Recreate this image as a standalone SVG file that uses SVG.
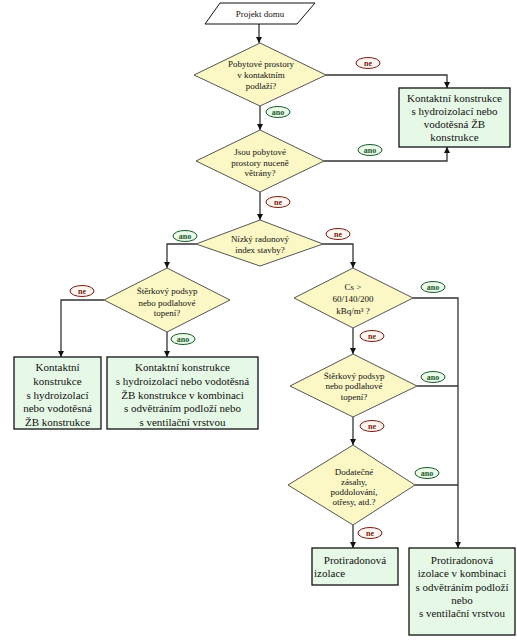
<svg xmlns="http://www.w3.org/2000/svg" width="517" height="642" viewBox="0 0 517 642">
<defs>
<style>
.bg{fill:#ffffff}
.dia{fill:#fbf8c6;stroke:#555555;stroke-width:1}
.box{fill:#e6f8e6;stroke:#111111;stroke-width:1.3}
.par{fill:#ffffff;stroke:#111111;stroke-width:1}
.ln{fill:none;stroke:#333333;stroke-width:1.3}
.dt{font-family:"Liberation Serif","Times New Roman",serif;font-size:9px;fill:#111111;text-anchor:middle}
.bt{font-family:"Liberation Serif","Times New Roman",serif;font-size:11px;fill:#111111;text-anchor:middle}
.ne ellipse{fill:#fff6f2;stroke:#7a1a10;stroke-width:1}
.ne text{font-family:"Liberation Serif","Times New Roman",serif;font-size:8px;font-weight:bold;fill:#7a1a10;text-anchor:middle}
.ano ellipse{fill:#eafbea;stroke:#1a5a2a;stroke-width:1}
.ano text{font-family:"Liberation Serif","Times New Roman",serif;font-size:8px;font-weight:bold;fill:#1a5a2a;text-anchor:middle}
</style>
<marker id="ah" viewBox="0 0 10 10" refX="10" refY="5" markerWidth="6" markerHeight="6" orient="auto" markerUnits="userSpaceOnUse">
<path d="M0,0 L10,5 L0,10 z" fill="#111111"/>
</marker>
</defs>
<rect class="bg" x="0" y="0" width="517" height="642"/>

<g id="connectors">
<path class="ln" d="M259,24 V43" marker-end="url(#ah)"/>
<path class="ln" d="M326,75 H447 V88" marker-end="url(#ah)"/>
<path class="ln" d="M260,106 V130" marker-end="url(#ah)"/>
<path class="ln" d="M324,161 H447 V147" marker-end="url(#ah)"/>
<path class="ln" d="M260,192 V220" marker-end="url(#ah)"/>
<path class="ln" d="M323,244 H353 V268" marker-end="url(#ah)"/>
<path class="ln" d="M196,244 H167 V268" marker-end="url(#ah)"/>
<path class="ln" d="M104,300 H61 V357" marker-end="url(#ah)"/>
<path class="ln" d="M167,332 V357" marker-end="url(#ah)"/>
<path class="ln" d="M413,298 H458 V548" marker-end="url(#ah)"/>
<path class="ln" d="M417,386 H458"/>
<path class="ln" d="M415,485 H458"/>
<path class="ln" d="M353,328 V354" marker-end="url(#ah)"/>
<path class="ln" d="M353,417 V445" marker-end="url(#ah)"/>
<path class="ln" d="M353,525 V548" marker-end="url(#ah)"/>
</g>

<g id="labels">
<g class="ne"><ellipse cx="368" cy="63" rx="12" ry="5.5"/><text x="368" y="66">ne</text></g>
<g class="ano"><ellipse cx="278" cy="112" rx="12" ry="5.5"/><text x="278" y="115">ano</text></g>
<g class="ano"><ellipse cx="370" cy="150" rx="12" ry="5.5"/><text x="370" y="153">ano</text></g>
<g class="ne"><ellipse cx="278" cy="202" rx="12" ry="5.5"/><text x="278" y="205">ne</text></g>
<g class="ne"><ellipse cx="338" cy="234" rx="12" ry="5.5"/><text x="338" y="237">ne</text></g>
<g class="ano"><ellipse cx="185" cy="236" rx="12" ry="5.5"/><text x="185" y="239">ano</text></g>
<g class="ne"><ellipse cx="82" cy="291" rx="12" ry="5.5"/><text x="82" y="294">ne</text></g>
<g class="ano"><ellipse cx="183" cy="339" rx="12" ry="5.5"/><text x="183" y="342">ano</text></g>
<g class="ano"><ellipse cx="433" cy="287" rx="12" ry="5.5"/><text x="433" y="290">ano</text></g>
<g class="ne"><ellipse cx="372" cy="336" rx="12" ry="5.5"/><text x="372" y="339">ne</text></g>
<g class="ano"><ellipse cx="433" cy="377" rx="12" ry="5.5"/><text x="433" y="380">ano</text></g>
<g class="ne"><ellipse cx="372" cy="426" rx="12" ry="5.5"/><text x="372" y="429">ne</text></g>
<g class="ano"><ellipse cx="427" cy="473" rx="12" ry="5.5"/><text x="427" y="476">ano</text></g>
<g class="ne"><ellipse cx="370" cy="533" rx="12" ry="5.5"/><text x="370" y="536">ne</text></g>
</g>

<g id="start">
<polygon class="par" points="220,3 315,3 297,24 205,24"/>
<text class="dt" x="260" y="17">Projekt domu</text>
</g>

<g id="d1">
<polygon class="dia" points="260,43 326,75 260,106 194,75"/>
<text class="dt" x="261" y="67">Pobytové prostory</text>
<text class="dt" x="261" y="78">v kontaktním</text>
<text class="dt" x="261" y="89">podlaží?</text>
</g>

<g id="d2">
<polygon class="dia" points="260,130 324,161 260,192 196,161"/>
<text class="dt" x="260" y="155">Jsou pobytové</text>
<text class="dt" x="260" y="166">prostory nuceně</text>
<text class="dt" x="260" y="176">větrány?</text>
</g>

<g id="d3">
<polygon class="dia" points="260,220 323,244 260,266 196,244"/>
<text class="dt" x="260" y="242">Nízký radonový</text>
<text class="dt" x="260" y="253">index stavby?</text>
</g>

<g id="d4">
<polygon class="dia" points="167,268 230,300 167,332 104,300"/>
<text class="dt" x="167" y="294">Štěrkový podsyp</text>
<text class="dt" x="167" y="306">nebo podlahové</text>
<text class="dt" x="167" y="316">topení?</text>
</g>

<g id="d5">
<polygon class="dia" points="353,268 413,298 353,328 294,298"/>
<text class="dt" x="353" y="290">Cs &gt;</text>
<text class="dt" x="353" y="302">60/140/200</text>
<text class="dt" x="353" y="314">kBq/m³ ?</text>
</g>

<g id="d6">
<polygon class="dia" points="353,354 417,386 353,417 290,386"/>
<text class="dt" x="354" y="379">Štěrkový podsyp</text>
<text class="dt" x="354" y="389">nebo podlahové</text>
<text class="dt" x="354" y="400">topení?</text>
</g>

<g id="d7">
<polygon class="dia" points="353,445 415,485 353,525 288,485"/>
<text class="dt" x="354" y="475">Dodatečné</text>
<text class="dt" x="354" y="485">zásahy,</text>
<text class="dt" x="354" y="495">poddolování,</text>
<text class="dt" x="354" y="505">otřesy, atd.?</text>
</g>

<g id="b1">
<rect class="box" x="399" y="88" width="111" height="59"/>
<text class="bt" x="454.5" y="102">Kontaktní konstrukce</text>
<text class="bt" x="454.5" y="115">s hydroizolací nebo</text>
<text class="bt" x="454.5" y="128">vodotěsná ŽB</text>
<text class="bt" x="454.5" y="141">konstrukce</text>
</g>

<g id="b2">
<rect class="box" x="14" y="357" width="87" height="72"/>
<text class="bt" x="57.5" y="370.5">Kontaktní</text>
<text class="bt" x="57.5" y="384.5">konstrukce</text>
<text class="bt" x="57.5" y="398.5">s hydroizolací</text>
<text class="bt" x="57.5" y="412">nebo vodotěsná</text>
<text class="bt" x="57.5" y="426">ŽB konstrukce</text>
</g>

<g id="b3">
<rect class="box" x="107" y="357" width="151" height="72"/>
<text class="bt" x="182.5" y="370.5">Kontaktní konstrukce</text>
<text class="bt" x="182.5" y="384.5">s hydroizolací nebo vodotěsná</text>
<text class="bt" x="182.5" y="398.5">ŽB konstrukce v kombinaci</text>
<text class="bt" x="182.5" y="412">s odvětráním podloží nebo</text>
<text class="bt" x="182.5" y="426">s ventilační vrstvou</text>
</g>

<g id="b4">
<rect class="box" x="312" y="548" width="86" height="37"/>
<text class="bt" x="355" y="564">Protiradonová</text>
<text class="bt" x="314" y="577" style="text-anchor:start">izolace</text>
</g>

<g id="b5">
<rect class="box" x="409" y="548" width="106" height="87"/>
<text class="bt" x="462" y="564">Protiradonová</text>
<text class="bt" x="462" y="577">izolace v kombinaci</text>
<text class="bt" x="462" y="591">s odvětráním podloží</text>
<text class="bt" x="462" y="604">nebo</text>
<text class="bt" x="462" y="617">s ventilační vrstvou</text>
</g>
</svg>
